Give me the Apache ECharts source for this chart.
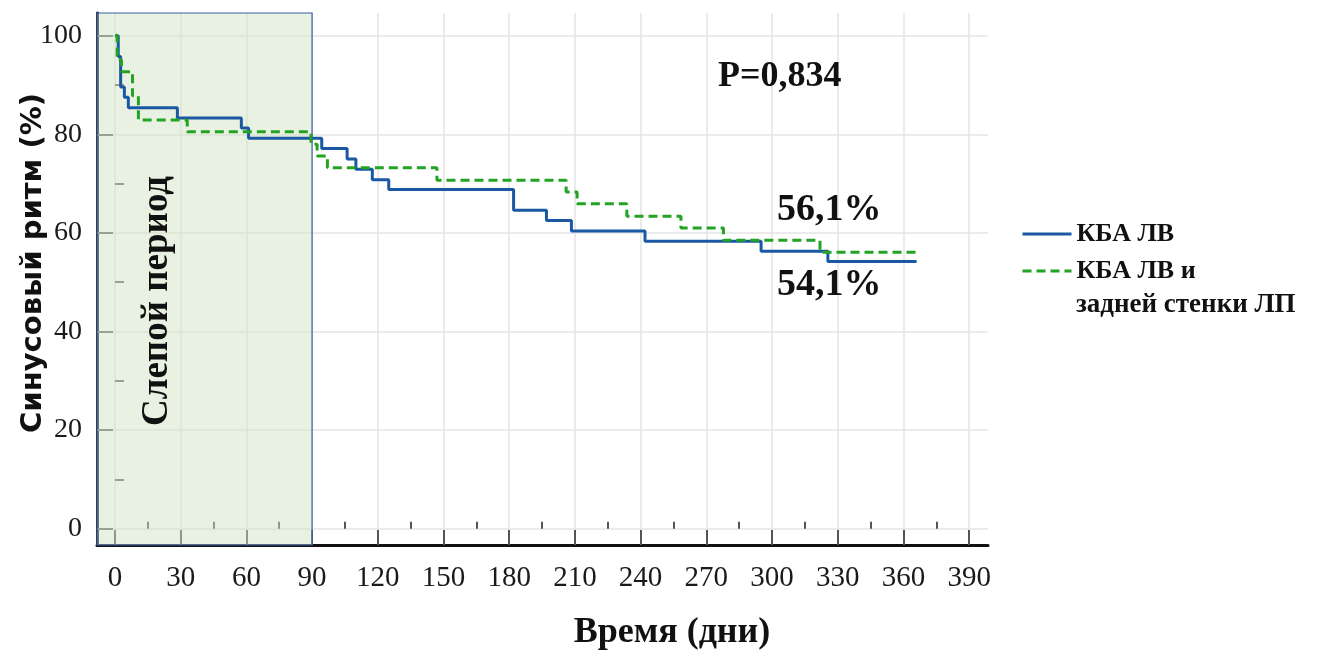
<!DOCTYPE html>
<html>
<head>
<meta charset="utf-8">
<script src="https://cdn.jsdelivr.net/npm/echarts@6/dist/echarts.min.js"></script>
<style>
  html, body { margin: 0; padding: 0; background: #fff; }
  #chart { width: 1318px; height: 655px; }
</style>
</head>
<body>
<div id="chart"></div>
<script>
// axis ranges / ticks
var xMin = -8.2, xMax = 398.6;
var yMin = -3.3, yMax = 104.6;
var xMajor = [0, 30, 60, 90, 120, 150, 180, 210, 240, 270, 300, 330, 360, 390];
var xMinor = [15, 45, 75, 105, 135, 165, 195, 225, 255, 285, 315, 345, 375];
var yMajor = [0, 20, 40, 60, 80, 100];
var yMinor = [10, 30, 50, 70, 90];
var blindEnd = 90;

// Kaplan-Meier steps, КБА ЛВ
var blueDays = [0, 1.5, 2.6, 4.3, 6.1, 28.5, 57.7, 61, 94.4, 106, 110, 117.5, 125, 182, 197, 208.4, 242, 295, 325.5, 366];
var blueSurv = [100, 95.8, 89.6, 87.5, 85.4, 83.3, 81.3, 79.2, 77.1, 75.0, 72.9, 70.8, 68.8, 64.6, 62.5, 60.4, 58.3, 56.3, 54.2, 54.2];

// КБА ЛВ и задней стенки ЛП
var greenDays = [0, 1, 3, 8, 10.7, 33, 89.5, 92.3, 97, 147, 206, 211, 233.7, 258.4, 277.8, 321.9, 366];
var greenSurv = [100, 95.1, 92.7, 87.8, 82.9, 80.5, 78.0, 75.6, 73.2, 70.7, 68.3, 65.9, 63.4, 61.0, 58.5, 56.1, 56.1];

var serif = '"Liberation Serif", "Times New Roman", serif';

function pairs(xs, ys) {
	return xs.map(function (x, i) { return [x, ys[i]]; });
}

var chart = echarts.init(document.getElementById('chart'));

var option = {
	animation: false,
	backgroundColor: '#ffffff',
	grid: {
		left: 97,
		top: 13,
		width: 891,
		height: 532
	},
	legend: {
		orient: 'vertical',
		left: 1016,
		top: 216,
		itemWidth: 49,
		itemHeight: 14,
		itemGap: 11,
		itemStyle: { opacity: 0 },
		lineStyle: { width: 3 },
		textStyle: {
			fontFamily: serif,
			fontWeight: 'bold',
			fontSize: 26,
			color: '#111'
		},
		data: ['КБА ЛВ', 'КБА ЛВ и']
	},
	xAxis: [{
		type: 'value',
		min: xMin,
		max: xMax,
		position: 'bottom',
		axisLine: { show: true, onZero: false, lineStyle: { color: '#111', width: 3 } },
		axisTick: { show: true, inside: true, length: 15, customValues: xMajor, lineStyle: { color: '#555', width: 2 } },
		axisLabel: { customValues: xMajor, margin: 19, fontFamily: serif, fontSize: 29, color: '#1a1a1a' },
		splitLine: { show: true, lineStyle: { color: '#e4e4e4', width: 1.5 } }
	}, {
		type: 'value',
		min: xMin,
		max: xMax,
		position: 'bottom',
		axisLine: { show: false },
		axisTick: { show: true, inside: true, length: 7, customValues: xMinor, lineStyle: { color: '#555', width: 2 } },
		axisLabel: { show: false },
		splitLine: { show: false }
	}],
	yAxis: [{
		type: 'value',
		min: yMin,
		max: yMax,
		position: 'left',
		axisLine: { show: true, onZero: false, lineStyle: { color: '#111', width: 3 } },
		axisTick: { show: true, inside: true, length: 16, customValues: yMajor, lineStyle: { color: '#666', width: 2 } },
		axisLabel: { customValues: yMajor, margin: 15, fontFamily: serif, fontSize: 28, color: '#1a1a1a' },
		splitLine: { show: true, lineStyle: { color: '#e4e4e4', width: 1.5 } }
	}, {
		type: 'value',
		min: yMin,
		max: yMax,
		position: 'left',
		axisLine: { show: false },
		axisTick: { show: true, inside: true, length: 9, customValues: yMinor, lineStyle: { color: '#666', width: 2 } },
		axisLabel: { show: false },
		splitLine: { show: false }
	}],
	series: [{
		name: 'КБА ЛВ',
		type: 'line',
		step: 'end',
		symbol: 'none',
		data: pairs(blueDays, blueSurv),
		lineStyle: { color: '#1b58a3', width: 3 },
		itemStyle: { color: '#1b58a3' },
		z: 4,
		markArea: {
			silent: true,
			itemStyle: {
				color: 'rgba(208, 227, 195, 0.48)',
				borderColor: '#3a5fa8',
				borderWidth: 1.2
			},
			data: [[{ xAxis: xMin, yAxis: yMin }, { xAxis: blindEnd, yAxis: yMax }]]
		}
	}, {
		name: 'КБА ЛВ и',
		type: 'line',
		step: 'end',
		symbol: 'none',
		data: pairs(greenDays, greenSurv),
		lineStyle: { color: '#22a322', width: 3, type: [9, 5] },
		itemStyle: { color: '#22a322' },
		z: 5
	}],
	graphic: [{
		type: 'text',
		z: 100,
		x: 33, y: 263,
		rotation: Math.PI / 2,
		style: {
			text: 'Синусовый ритм (%)',
			font: 'bold 29px "DejaVu Sans", sans-serif',
			fill: '#111',
			align: 'center',
			verticalAlign: 'middle'
		}
	}, {
		type: 'text',
		z: 100,
		x: 157, y: 301,
		rotation: Math.PI / 2,
		style: {
			text: 'Слепой период',
			font: 'bold 37px ' + serif,
			fill: '#111',
			align: 'center',
			verticalAlign: 'middle'
		}
	}, {
		type: 'text',
		z: 100,
		x: 672, y: 633,
		style: {
			text: 'Время (дни)',
			font: 'bold 36px ' + serif,
			fill: '#111',
			align: 'center',
			verticalAlign: 'middle'
		}
	}, {
		type: 'text',
		z: 100,
		x: 718, y: 77,
		style: {
			text: 'P=0,834',
			font: 'bold 36px ' + serif,
			fill: '#111',
			align: 'left',
			verticalAlign: 'middle'
		}
	}, {
		type: 'text',
		z: 100,
		x: 777, y: 210,
		style: {
			text: '56,1%',
			font: 'bold 38px ' + serif,
			fill: '#111',
			align: 'left',
			verticalAlign: 'middle'
		}
	}, {
		type: 'text',
		z: 100,
		x: 777, y: 285,
		style: {
			text: '54,1%',
			font: 'bold 38px ' + serif,
			fill: '#111',
			align: 'left',
			verticalAlign: 'middle'
		}
	}, {
		type: 'text',
		z: 100,
		x: 1076, y: 305,
		style: {
			text: 'задней стенки ЛП',
			font: 'bold 27px ' + serif,
			fill: '#111',
			align: 'left',
			verticalAlign: 'middle'
		}
	}]
};

chart.setOption(option);
</script>
</body>
</html>
